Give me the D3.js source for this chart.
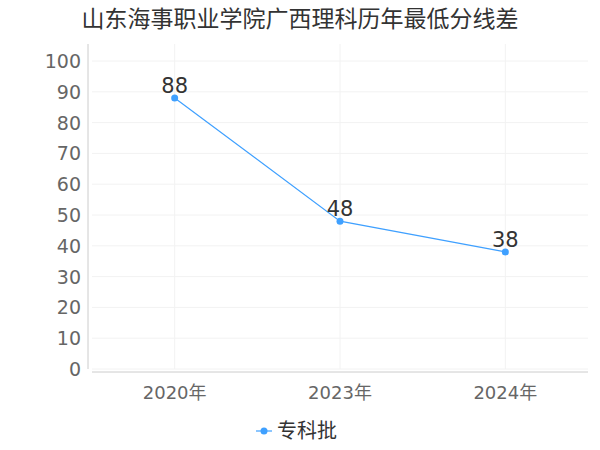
<!DOCTYPE html>
<html>
<head>
<meta charset="utf-8">
<script src="https://d3js.org/d3.v7.min.js"></script>
<style>body{margin:0;background:#fff;font-family:"DejaVu Sans","Noto Sans CJK SC",sans-serif;}</style>
</head>
<body>
<div id="chart"></div>
<script>
var years = ["2020年", "2023年", "2024年"]
var scores = [88, 48, 38]
var yTicks = [0, 10, 20, 30, 40, 50, 60, 70, 80, 90, 100]
var title = "山东海事职业学院广西理科历年最低分线差"
var seriesName = "专科批"

var w = 600, h = 450
var svg = d3.select("#chart").append("svg").attr("width", w).attr("height", h)
var x = d3.scaleBand().domain(years).range([92, 588])
var y = d3.scaleLinear().domain([0, 100]).range([369, 61])
var cx = function(d){ return x(d) + x.bandwidth() / 2 }

svg.append("text").attr("x", 300).attr("y", 27).attr("text-anchor", "middle")
    .attr("font-size", 23).attr("fill", "#333").text(title)

// grid
svg.selectAll(".hg").data(yTicks).enter().append("line")
    .attr("x1", 92).attr("x2", 588).attr("y1", d => y(d)).attr("y2", d => y(d))
    .attr("stroke", "#f2f2f2")
svg.selectAll(".vg").data(years).enter().append("line")
    .attr("x1", cx).attr("x2", cx).attr("y1", 44).attr("y2", 369)
    .attr("stroke", "#f2f2f2")

// y axis
svg.append("line").attr("x1", 88).attr("x2", 88).attr("y1", 44).attr("y2", 369).attr("stroke", "#ccc")
svg.selectAll(".yt").data(yTicks).enter().append("text")
    .attr("x", 81).attr("y", d => y(d) + 7).attr("text-anchor", "end")
    .attr("font-size", 19).attr("fill", "#666").text(d => d)

// x axis
svg.append("line").attr("x1", 92).attr("x2", 588).attr("y1", 372).attr("y2", 372).attr("stroke", "#ccc")
svg.selectAll(".xt").data(years).enter().append("text")
    .attr("x", cx).attr("y", 399).attr("text-anchor", "middle")
    .attr("font-size", 18).attr("fill", "#666").text(d => d)

var line = d3.line().x((d, i) => cx(years[i])).y(d => y(d))
svg.append("path").datum(scores).attr("d", line).attr("fill", "none")
    .attr("stroke", "#3fa0ff").attr("stroke-width", 1.2)
svg.selectAll(".pt").data(scores).enter().append("circle")
    .attr("cx", (d, i) => cx(years[i])).attr("cy", d => y(d)).attr("r", 3.5).attr("fill", "#3fa0ff")
svg.selectAll(".lb").data(scores).enter().append("text")
    .attr("x", (d, i) => cx(years[i])).attr("y", d => y(d) - 5).attr("text-anchor", "middle")
    .attr("font-size", 21).attr("fill", "#333").text(d => d)

// legend
svg.append("line").attr("x1", 256).attr("x2", 272).attr("y1", 431).attr("y2", 431).attr("stroke", "#3fa0ff").attr("stroke-width", 1.2)
svg.append("circle").attr("cx", 264).attr("cy", 431).attr("r", 3.5).attr("fill", "#3fa0ff")
svg.append("text").attr("x", 277).attr("y", 438).attr("font-size", 20).attr("fill", "#333").text(seriesName)
</script>
</body>
</html>
